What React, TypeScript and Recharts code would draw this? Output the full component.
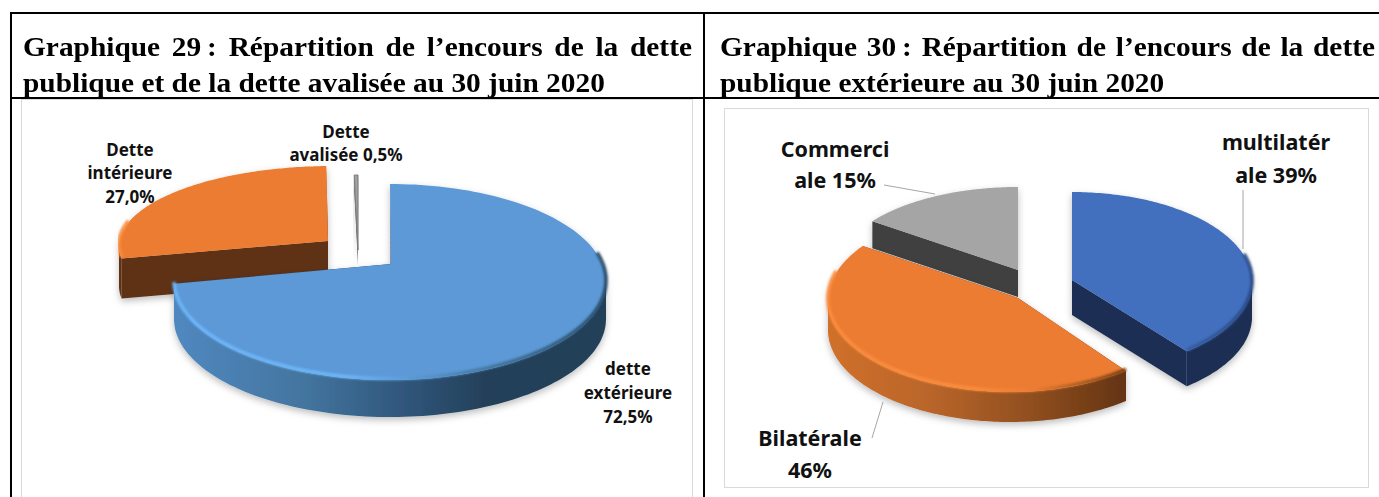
import React from "react";
import { PieChart, Pie } from "recharts";

// ---------- data ----------
const leftNames = ["Dette avalisée", "Dette intérieure", "dette extérieure"];
const leftValues = [0.5, 27.0, 72.5];
const leftLabels = [["Dette", "avalisée 0,5%"], ["Dette", "intérieure", "27,0%"], ["dette", "extérieure", "72,5%"]];

const rightNames = ["Commerciale", "Bilatérale", "multilatérale"];
const rightValues = [15, 46, 39];
const rightLabels = [["Commerci", "ale 15%"], ["Bilatérale", "46%"], ["multilatér", "ale 39%"]];

const titles29 = ["Graphique 29\u202F: Répartition de l’encours de la dette", "publique et de la dette avalisée au 30 juin 2020"];
const titles30 = ["Graphique 30\u202F: Répartition de l’encours de la dette", "publique extérieure au 30 juin 2020"];

// ---------- styling / pseudo-3D geometry ----------
type Stop = [number, string];
type Look = {
  id: string; top: string; cut: string; cx: number; cy: number; rx: number; ry: number;
  ax: number; ay: number; depth: number; wall: Stop[]; rim: Stop[]; x0: number; x1: number;
  edge?: string; tip?: [number, number, number];
};

const leftLook: Look[] = [
  { id: "l0", top: "#a0a0a0", cut: "#5a5a5a", cx: 358, cy: 255, rx: 120, ry: 80, ax: 358, ay: 250, depth: 15, edge: "#7a7a7a",
    wall: [[0, "#666"], [1, "#666"]], rim: [[0, "#999"], [1, "#999"]], x0: 340, x1: 360 },
  { id: "l1", top: "#eb7c30", cut: "#5f3213", cx: 333, cy: 246, rx: 214, ry: 80, ax: 328, ay: 241, depth: 40,
    wall: [[0, "#5f3213"], [1, "#5f3213"]], rim: [[0, "#fb8c3c"], [0.25, "#fb8c3c"], [0.4, "#eb7c30"], [1, "#eb7c30"]], x0: 117, x1: 330 },
  { id: "l2", top: "#5b99d6", cut: "#1f3d5a", cx: 390, cy: 282, rx: 216, ry: 98, ax: 391, ay: 264, depth: 37, tip: [270, 189, 181],
    wall: [[0, "#5088c0"], [0.3, "#43759f"], [0.55, "#2e5478"], [0.72, "#24405a"], [1, "#243f59"]],
    rim: [[0, "#6db6fa"], [0.4, "#6db6fa"], [0.55, "#5b99d6"], [0.72, "#44779f"], [1, "#284a68"]], x0: 175, x1: 606 },
];

const rightLook: Look[] = [
  { id: "r0", top: "#a5a5a5", cut: "#404040", cx: 1018, cy: 270, rx: 180, ry: 83, ax: 1018, ay: 270, depth: 27,
    wall: [[0, "#404040"], [1, "#404040"]], rim: [[0, "#a5a5a5"], [1, "#a5a5a5"]], x0: 870, x1: 1018 },
  { id: "r1", top: "#ec7c31", cut: "#6b3813", cx: 1010, cy: 300, rx: 182, ry: 92, ax: 1018, ay: 298, depth: 30,
    wall: [[0, "#d0702c"], [0.35, "#b9652a"], [0.7, "#8f4e1f"], [1, "#653512"]],
    rim: [[0, "#fb8c3c"], [0.5, "#fb8c3c"], [0.7, "#ec7c31"], [0.85, "#ad5f24"], [1, "#7a4218"]], x0: 828, x1: 1122 },
  { id: "r2", top: "#4270bf", cut: "#1a2e52", cx: 1072, cy: 282, rx: 180, ry: 90, ax: 1072, ay: 280, depth: 35,
    wall: [[0, "#1a2e52"], [1, "#1a2e52"]], rim: [[0, "#4270bf"], [0.5, "#3a64ab"], [1, "#2b4a85"]], x0: 1072, x1: 1253 },
];

const leftText = [
  { x: 346, y: [138, 161] },
  { x: 130, y: [156, 179, 203] },
  { x: 628, y: [375, 399, 423] },
];
const rightText = [
  { x: 835, y: [157, 188] },
  { x: 810, y: [446, 478] },
  { x: 1276, y: [150, 183] },
];
const rightLeaders = [
  [884, 185, 935, 194],
  [872, 438, 883, 402],
  [1243, 190, 1243, 249],
];

const pt = (l: Look, a: number) => {
  let d = a;
  if (l.tip) {
    // perspective: the front-left end of the slice sits closer to the horizontal axis
    const [hi, lo, to] = l.tip;
    if (a >= lo && a <= hi) d = to + ((a - lo) * (hi - to)) / (hi - lo);
  }
  const r = (d * Math.PI) / 180;
  return [l.cx + l.rx * Math.cos(r), l.cy - l.ry * Math.sin(r)];
};

const sliceShape = (looks: Look[]) => (props: any) => {
  const l = looks[props.index ?? 0] ?? looks[looks.findIndex((x) => x.top === props.fill)];
  const { startAngle: s, endAngle: e } = props;
  const n = 160;
  const arc: number[][] = [];
  for (let i = 0; i <= n; i++) arc.push(pt(l, s + ((e - s) * i) / n));
  const toD = (p: number[][]) => p.map((q, i) => `${i ? "L" : "M"}${q[0].toFixed(1)} ${q[1].toFixed(1)}`).join("");
  const sinAt = (i: number) => Math.sin(((s + ((e - s) * i) / n) * Math.PI) / 180);
  const lower = arc.filter((_, i) => sinAt(i) <= 0.02);
  const rimPts = arc.filter((_, i) => sinAt(i) <= 0.3);
  const wall = lower.length
    ? toD([...lower, ...lower.slice().reverse().map((q) => [q[0], q[1] + l.depth])]) + "Z"
    : "";
  const A = [l.ax, l.ay];
  const cut = (P: number[]) =>
    toD([A, P, [P[0], P[1] + l.depth], [A[0], A[1] + l.depth]]) + "Z";
  const grad = (id: string, st: Stop[]) => (
    <linearGradient id={id} gradientUnits="userSpaceOnUse" x1={l.x0} x2={l.x1} y1={0} y2={0}>
      {st.map(([o, c], i) => <stop key={i} offset={o} stopColor={c} />)}
    </linearGradient>
  );
  return (
    <g>
      <defs>
        {grad(`${l.id}-wall`, l.wall)}
        {grad(`${l.id}-rim`, l.rim)}
        <filter id={`${l.id}-sh`} x="-20%" y="-20%" width="140%" height="150%">
          <feDropShadow dx="0" dy="3" stdDeviation="3.5" floodColor="#000" floodOpacity="0.26" />
        </filter>
        <filter id={`${l.id}-bl`} x="-10%" y="-10%" width="120%" height="120%">
          <feGaussianBlur stdDeviation="1.1" />
        </filter>
      </defs>
      <g filter={`url(#${l.id}-sh)`}>
        <path d={cut(arc[0])} fill={l.cut} />
        <path d={cut(arc[n])} fill={l.cut} />
        {wall && <path d={wall} fill={`url(#${l.id}-wall)`} />}
        <path d={toD([A, ...arc]) + "Z"} fill={l.top} stroke={l.edge ?? "none"} strokeWidth={l.edge ? 1 : 0} />
      </g>
      {rimPts.length > 0 && (
        <path d={toD(rimPts.map((q) => [q[0], q[1] - 1.5]))} fill="none" stroke={`url(#${l.id}-rim)`} strokeWidth={3.5} filter={`url(#${l.id}-bl)`} />
      )}
    </g>
  );
};

const textLabel = (lines: string[][], pos: { x: number; y: number[] }[], size: number, leaders?: number[][]) => (props: any) => {
  const i = props.index;
  return (
    <g>
      {leaders && <line x1={leaders[i][0]} y1={leaders[i][1]} x2={leaders[i][2]} y2={leaders[i][3]} stroke="#a6a6a6" strokeWidth={1} />}
      {lines[i].map((t, k) => (
        <text key={k} x={pos[i].x} y={pos[i].y[k]} textAnchor="middle" fontFamily="'Noto Sans'" fontWeight={700} fontSize={size} fill="#111">
          {t}
        </text>
      ))}
    </g>
  );
};

const leftData = leftNames.map((name, i) => ({ name, value: leftValues[i] }));
const rightData = rightNames.map((name, i) => ({ name, value: rightValues[i] }));

const abs = (x: number, y: number, w: number, h: number, bg: string): React.CSSProperties => ({ position: "absolute", left: x, top: y, width: w, height: h, background: bg });
const STRETCH = 1.088;
const titleStyle = (x: number, y: number, w: number, just: boolean): React.CSSProperties => ({
  position: "absolute", left: x, top: y, width: w / STRETCH, fontFamily: "'Liberation Serif'", fontWeight: 700, fontSize: 27,
  lineHeight: "30px", whiteSpace: just ? "normal" : "nowrap", textAlign: "justify", textAlignLast: just ? "justify" : "left", color: "#000",
  transform: `scaleX(${STRETCH})`, transformOrigin: "left top",
});

export default function App() {
  return (
    <div style={{ position: "absolute", left: 0, top: 0, width: 1379, height: 497, overflow: "hidden", background: "#fff" }}>
      <div style={abs(10, 12, 1369, 2, "#000")} />
      <div style={abs(10, 97, 1369, 2, "#000")} />
      <div style={abs(10, 12, 2, 485, "#000")} />
      <div style={abs(703, 12, 2, 485, "#000")} />
      <div style={{ ...abs(21, 99, 672, 400, "transparent"), border: "1.5px solid #d9d9d9", boxSizing: "border-box" }} />
      <div style={{ ...abs(724, 108, 645, 380, "transparent"), border: "1.5px solid #d9d9d9", boxSizing: "border-box" }} />

      <div style={titleStyle(23, 32, 669, true)}>{titles29[0]}</div>
      <div style={titleStyle(23, 68, 669, false)}>{titles29[1]}</div>
      <div style={titleStyle(720, 32, 655, true)}>{titles30[0]}</div>
      <div style={titleStyle(720, 68, 655, false)}>{titles30[1]}</div>

      <div style={{ position: "absolute", left: 0, top: 0 }}>
        <PieChart width={1379} height={497} margin={{ top: 0, right: 0, bottom: 0, left: 0 }}>
          <Pie data={leftData} dataKey="value" nameKey="name" cx={390} cy={282} outerRadius={216} startAngle={90} endAngle={450}
            stroke="none" isAnimationActive={false} shape={sliceShape(leftLook)} labelLine={false}
            label={textLabel(leftLabels, leftText, 17)} />
        </PieChart>
      </div>
      <div style={{ position: "absolute", left: 0, top: 0 }}>
        <PieChart width={1379} height={497} margin={{ top: 0, right: 0, bottom: 0, left: 0 }}>
          <Pie data={rightData} dataKey="value" nameKey="name" cx={1072} cy={282} outerRadius={180} startAngle={90} endAngle={450}
            stroke="none" isAnimationActive={false} shape={sliceShape(rightLook)} labelLine={false}
            label={textLabel(rightLabels, rightText, 21.5, rightLeaders)} />
        </PieChart>
      </div>
    </div>
  );
}
